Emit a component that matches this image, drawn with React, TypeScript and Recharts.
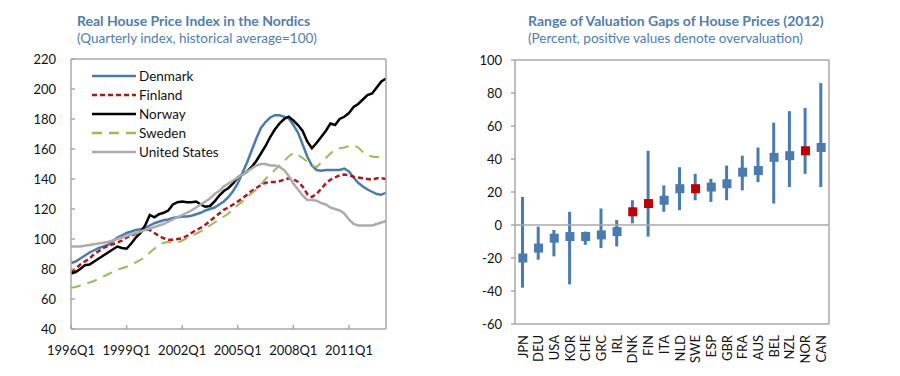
import React from "react";
import {
    LineChart,
    Line,
    ComposedChart,
    Bar,
    XAxis,
    YAxis,
    Legend,
    ReferenceLine,
} from "recharts";

// ---- left panel: quarterly index 1996Q1..2013Q1 ----
const startYear = 1996;
const quarterCount = 69;
const quarters: string[] = [];
for (let i = 0; i < quarterCount; i++) {
    quarters.push(`${startYear + Math.floor(i / 4)}Q${(i % 4) + 1}`);
}
const quarterTicks = ["1996Q1", "1999Q1", "2002Q1", "2005Q1", "2008Q1", "2011Q1"];
const indexTicks = [40, 60, 80, 100, 120, 140, 160, 180, 200, 220];

const denmark = [
    84, 85, 87, 89, 91, 92.5, 94, 95, 96, 98.5, 101, 102.5, 104, 105, 106, 106.5,
    107.5, 109, 110.5, 111.5, 112.5, 113, 114, 114.5, 115, 115, 115.5, 116.5, 117.5, 119, 120, 121,
    123, 125, 128, 132, 137, 144, 151, 159, 167, 174, 178, 181, 182.5, 182.5, 181.5, 180.5,
    176, 171, 163, 155, 149, 146, 145.5, 146, 146, 146, 146, 147, 145, 141, 137.5, 135,
    133, 131.5, 130, 129.5, 131,
];
const finland = [
    78, 80, 83, 85, 87, 90, 92, 94, 95.5, 96.5, 97.5, 99, 101, 102, 103.5, 105,
    106.5, 106, 104, 102, 100.5, 99.5, 99.5, 100, 100.5, 102, 104, 106, 107.5, 109.5, 112, 114.5,
    117, 119.5, 121, 123, 125, 127, 129.5, 132, 134, 136, 137.5, 138, 138, 138.5, 139.5, 140.5,
    140, 138, 135, 130, 128, 130, 133.5, 137, 139.5, 141, 142.5, 143, 142.5, 141.5, 141, 140.5,
    140, 139.5, 140.5, 140.5, 140,
];
const norway = [
    77, 78, 80, 82.5, 83, 85, 87, 89, 91, 93, 95, 94, 93.5, 97, 101, 104,
    109, 116, 114.5, 116.5, 117.5, 119, 123, 124.5, 125, 124.5, 124.5, 125, 123, 121.5, 122, 125,
    129, 132, 134, 137, 141, 143, 145, 148, 152, 157, 162, 168, 173, 177, 180, 181.5,
    179, 176, 172, 165, 160.5, 164, 168, 172, 177, 176, 180, 181.5, 184, 188, 190, 193,
    196, 197, 201, 205, 207,
];
const sweden = [
    67.5, 68, 69, 70, 71, 72, 73.5, 75, 76.5, 78, 79.5, 80.5, 81.5, 83, 84.5, 86,
    88, 91, 93.5, 96, 97.5, 98, 97.5, 97.5, 99, 100.5, 102, 103.5, 105, 107, 109, 111,
    113, 115, 117, 120, 122.5, 125, 128, 130.5, 133, 136.5, 140, 143, 146, 149, 152, 155,
    157.5, 156, 154, 151.5, 149, 148, 151, 154, 157, 159.5, 160.5, 161, 162, 162.5, 161, 158,
    156, 155, 154.5, 155.5, 156,
];
const unitedStates = [
    95, 95, 95, 95.5, 96, 96.5, 97, 97.5, 98, 99, 100, 101, 102, 103, 104, 105,
    106, 107, 108, 109, 110, 111.5, 113, 114.5, 116, 117.5, 119, 121, 123, 125, 127, 130,
    132, 135, 137, 139, 141, 143, 145, 147, 149, 150, 150, 149, 149, 148, 146, 142,
    137, 133, 129, 126, 126, 125.5, 124, 123, 121, 120, 119, 117, 113, 110, 109, 109,
    109, 109, 110, 111, 112,
];

const priceData = quarters.map((q, i) => ({
    q,
    denmark: denmark[i],
    finland: finland[i],
    norway: norway[i],
    sweden: sweden[i],
    us: unitedStates[i],
}));

// ---- right panel: valuation gaps 2012 ----
const countries = [
    "JPN", "DEU", "USA", "KOR", "CHE", "GRC", "IRL", "DNK", "FIN", "ITA",
    "NLD", "SWE", "ESP", "GBR", "FRA", "AUS", "BEL", "NZL", "NOR", "CAN",
];
const gapMid = [-20, -14, -8, -7, -7, -6, -4, 8, 13, 15, 22, 22, 23, 25, 32, 33, 41, 42, 45, 47];
const gapLow = [-38, -21, -19, -36, -12, -14, -13, 1, -7, 8, 9, 15, 14, 15, 21, 26, 13, 23, 31, 23];
const gapHigh = [17, -1, -3, 8, -4, 10, 3, 15, 45, 24, 35, 31, 28, 36, 42, 47, 62, 69, 71, 86];
const nordics = ["DNK", "FIN", "SWE", "NOR"];
const gapTicks = [-60, -40, -20, 0, 20, 40, 60, 80, 100];

const gapData = countries.map((country, i) => ({
    country,
    mid: gapMid[i],
    low: gapLow[i],
    high: gapHigh[i],
}));

const FONT = "Lato, sans-serif";
const AXIS = "#a9a9a9";
const TITLE = "#4f7eab";
const BLUE = "#4a7bae";
const RED = "#c00000";
const tickStyle = { fill: "#111", fontSize: 13, fontFamily: FONT };

const LegendBox = (props: any) => {
    const items = props.payload || [];
    return (
        <div style={{ fontFamily: FONT, fontSize: 13.5, color: "#111" }}>
            {items.map((e: any) => (
                <div key={e.value} style={{ display: "flex", alignItems: "center", height: 19 }}>
                    <svg width={44} height={6} style={{ marginRight: 3 }}>
                        <line
                            x1={0}
                            y1={3}
                            x2={44}
                            y2={3}
                            stroke={e.color}
                            strokeWidth={2.5}
                            strokeDasharray={e.payload?.strokeDasharray}
                        />
                    </svg>
                    <span>{e.value}</span>
                </div>
            ))}
        </div>
    );
};

const CountryTick = (props: any) => {
    const { x, y, payload } = props;
    return (
        <text
            transform={`translate(${x},${y}) rotate(-90)`}
            textAnchor="end"
            dy="0.36em"
            fill="#111"
            fontSize={13}
            fontFamily={FONT}
        >
            {payload.value}
        </text>
    );
};

const GapSquare = (props: any) => {
    const { cx, cy, payload } = props;
    if (cx == null || cy == null) return null;
    const fill = nordics.includes(payload.country) ? RED : BLUE;
    return <rect key={payload.country} x={cx - 4.5} y={cy - 4.5} width={9} height={9} fill={fill} />;
};

const titleStyle: React.CSSProperties = {
    position: "absolute",
    fontFamily: FONT,
    fontWeight: 700,
    fontSize: 14,
    lineHeight: "16px",
    color: TITLE,
    whiteSpace: "nowrap",
};
const subStyle: React.CSSProperties = {
    position: "absolute",
    fontFamily: FONT,
    fontSize: 13.5,
    lineHeight: "16px",
    color: TITLE,
    whiteSpace: "nowrap",
};

const App = () => {
    return (
        <div style={{ position: "absolute", left: 0, top: 0, width: 900, height: 376, background: "#fff" }}>
            {/* left: house price index */}
            <div style={{ ...titleStyle, left: 77, top: 13 }}>Real House Price Index in the Nordics</div>
            <div style={{ ...subStyle, left: 77, top: 30 }}>(Quarterly index, historical average=100)</div>
            <div style={{ position: "absolute", left: 0, top: 0 }}>
                <LineChart width={450} height={376} data={priceData} margin={{ top: 59, right: 14, bottom: 17, left: 0 }}>
                    <XAxis
                        dataKey="q"
                        ticks={quarterTicks}
                        interval={0}
                        height={30}
                        stroke={AXIS}
                        strokeWidth={1.5}
                        tickSize={-4}
                        tickMargin={21}
                        tick={tickStyle}
                    />
                    <YAxis
                        yAxisId="l"
                        domain={[40, 220]}
                        ticks={indexTicks}
                        width={71}
                        stroke={AXIS}
                        strokeWidth={1.5}
                        tickSize={-4}
                        tickMargin={19}
                        tick={tickStyle}
                    />
                    <YAxis
                        yAxisId="r"
                        orientation="right"
                        domain={[40, 220]}
                        ticks={indexTicks}
                        width={50}
                        stroke={AXIS}
                        strokeWidth={1.5}
                        tickSize={-4}
                        tickMargin={18}
                        tick={{ ...tickStyle, textAnchor: "start" }}
                    />
                    <ReferenceLine yAxisId="l" y={220} stroke={AXIS} strokeWidth={1.5} />
                    <Legend
                        layout="vertical"
                        align="center"
                        verticalAlign="middle"
                        wrapperStyle={{ left: 92, top: 66, width: 140 }}
                        content={LegendBox}
                    />
                    <Line yAxisId="l" dataKey="denmark" name="Denmark" stroke="#4a7bae" strokeWidth={2.5} dot={false} isAnimationActive={false} />
                    <Line yAxisId="l" dataKey="finland" name="Finland" stroke="#b0161e" strokeWidth={2.5} strokeDasharray="5 3" dot={false} isAnimationActive={false} />
                    <Line yAxisId="l" dataKey="norway" name="Norway" stroke="#000" strokeWidth={2.5} dot={false} isAnimationActive={false} />
                    <Line yAxisId="l" dataKey="sweden" name="Sweden" stroke="#9bbb59" strokeWidth={2} strokeDasharray="10 7" dot={false} isAnimationActive={false} />
                    <Line yAxisId="l" dataKey="us" name="United States" stroke="#acacac" strokeWidth={2.5} dot={false} isAnimationActive={false} />
                </LineChart>
            </div>

            {/* right: valuation gaps */}
            <div style={{ ...titleStyle, left: 528, top: 13 }}>Range of Valuation Gaps of House Prices (2012)</div>
            <div style={{ ...subStyle, left: 528, top: 30 }}>(Percent, positive values denote overvaluation)</div>
            <div style={{ position: "absolute", left: 450, top: 0 }}>
                <ComposedChart width={450} height={376} data={gapData} margin={{ top: 60, right: 21, bottom: 12, left: 0 }}>
                    <XAxis
                        dataKey="country"
                        interval={0}
                        height={40}
                        stroke={AXIS}
                        strokeWidth={1.5}
                        tickLine={false}
                        tickSize={0}
                        tickMargin={11}
                        tick={<CountryTick />}
                    />
                    <YAxis
                        yAxisId="l"
                        domain={[-60, 100]}
                        ticks={gapTicks}
                        width={65}
                        stroke={AXIS}
                        strokeWidth={1.5}
                        tickSize={4}
                        tickMargin={9}
                        tick={tickStyle}
                    />
                    <YAxis
                        yAxisId="r"
                        orientation="right"
                        domain={[-60, 100]}
                        ticks={gapTicks}
                        width={50}
                        stroke={AXIS}
                        strokeWidth={1.5}
                        tickSize={-4}
                        tickMargin={18}
                        tick={{ ...tickStyle, textAnchor: "start" }}
                    />
                    <ReferenceLine yAxisId="l" y={100} stroke={AXIS} strokeWidth={1.5} />
                    <ReferenceLine yAxisId="l" y={0} stroke={AXIS} strokeWidth={1.5} />
                    <Bar yAxisId="l" dataKey={(d: any) => [d.low, d.high]} barSize={3} fill={BLUE} isAnimationActive={false} />
                    <Line
                        yAxisId="l"
                        dataKey="mid"
                        stroke="none"
                        dot={GapSquare}
                        activeDot={false}
                        isAnimationActive={false}
                    />
                </ComposedChart>
            </div>
        </div>
    );
};

export default App;
